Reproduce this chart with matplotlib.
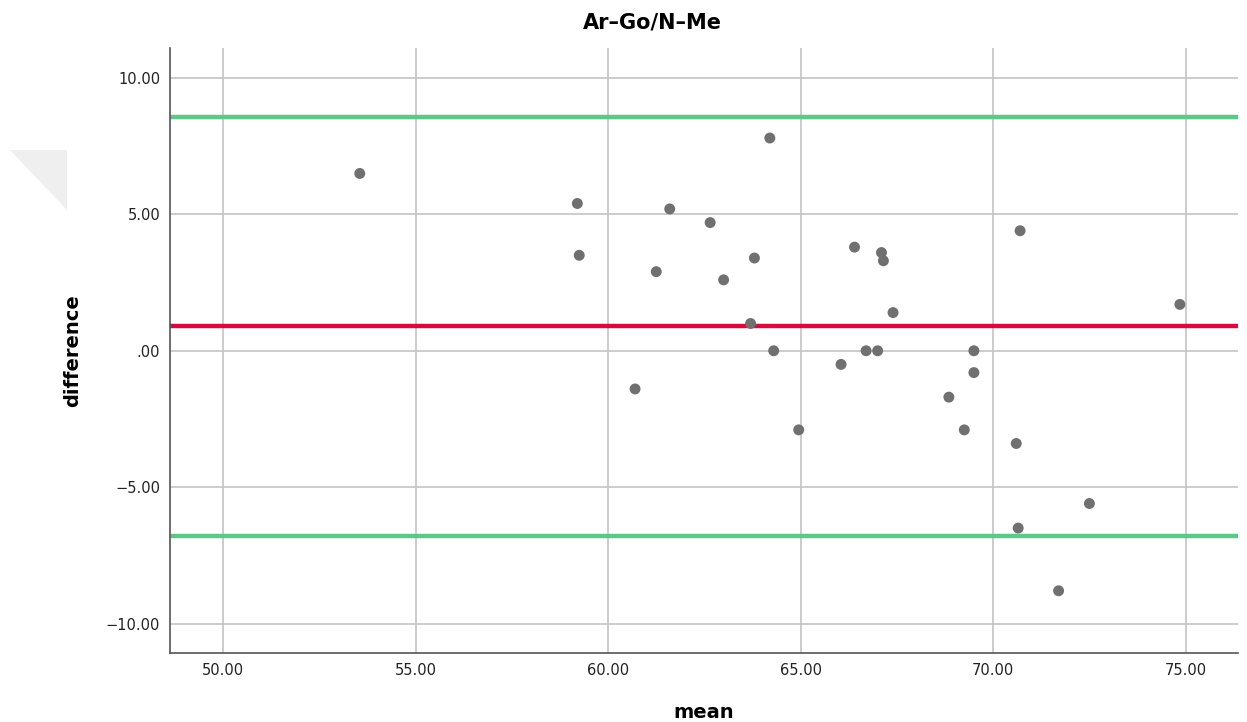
import matplotlib
matplotlib.use("Agg")
import matplotlib.pyplot as plt
from matplotlib.patches import Polygon

# Bland-Altman values
means = [53.55, 59.20, 59.25, 60.70, 61.25, 61.60, 62.65, 63.00, 64.20, 63.70,
         63.80, 64.30, 64.95, 66.05, 66.40, 66.70, 67.00, 67.10, 67.15, 67.40,
         68.85, 69.25, 69.50, 69.50, 70.60, 70.65, 70.70, 71.70, 72.50, 74.85]
diffs = [6.5, 5.4, 3.5, -1.4, 2.9, 5.2, 4.7, 2.6, 7.8, 1.0,
         3.4, 0.0, -2.9, -0.5, 3.8, 0.0, 0.0, 3.6, 3.3, 1.4,
         -1.7, -2.9, 0.0, -0.8, -3.4, -6.5, 4.4, -8.8, -5.6, 1.7]

mean_diff = 0.90
upper_loa = 8.58
lower_loa = -6.78

x_ticks = [50, 55, 60, 65, 70, 75]
y_ticks = [-10, -5, 0, 5, 10]
y_tick_labels = ["\u221210.00", "\u22125.00", ".00", "5.00", "10.00"]

fig = plt.figure(figsize=(12.47, 7.22), dpi=100)
ax = fig.add_axes([0.1363, 0.0956, 0.8565, 0.8379])

ax.set_xlim(48.62, 76.36)
ax.set_ylim(-11.08, 11.10)

ax.set_xticks(x_ticks)
ax.set_xticklabels([f"{v:.2f}" for v in x_ticks])
ax.set_yticks(y_ticks)
ax.set_yticklabels(y_tick_labels)
ax.tick_params(length=0, labelsize=10.5, colors="#222222", pad=7)

ax.grid(True, color="#c4c4c4", linewidth=1.2)
ax.set_axisbelow(True)

for side in ["top", "right"]:
    ax.spines[side].set_visible(False)
for side in ["left", "bottom"]:
    ax.spines[side].set_color("#555555")
    ax.spines[side].set_linewidth(1.2)

ax.axhline(upper_loa, color="#5cc98a", linewidth=3.2, zorder=2)
ax.axhline(lower_loa, color="#5cc98a", linewidth=3.2, zorder=2)
ax.axhline(mean_diff, color="#d90a3e", linewidth=3.2, zorder=2)

ax.scatter(means, diffs, s=62, color="#707070", edgecolors="none", zorder=3)

# title sits left of the axes centre in the reference
fig.text(652 / 1247, 1 - 22 / 722, "Ar\u2013Go/N\u2013Me", fontsize=15,
         fontweight="bold", ha="center", va="center")
ax.set_xlabel("mean", fontsize=14, fontweight="bold", labelpad=18)
ax.set_ylabel("difference", fontsize=14, fontweight="bold", labelpad=17)

# faint page-curl artifact at the left edge
fig.patches.append(Polygon([[10 / 1247, 1 - 150 / 722], [67 / 1247, 1 - 150 / 722],
                            [67 / 1247, 1 - 210 / 722]], closed=True,
                           transform=fig.transFigure, facecolor="#efefef",
                           edgecolor="none"))

fig.savefig("out.png", dpi=100)
